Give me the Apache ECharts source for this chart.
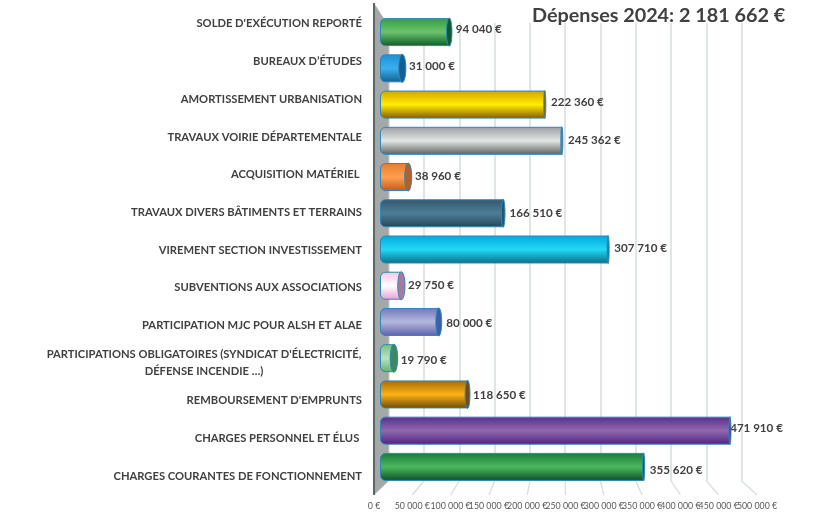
<!DOCTYPE html>
<html><head><meta charset="utf-8">
<style>html,body{margin:0;padding:0;background:#fff}#c{width:823px;height:521px}</style>
<script src="https://cdn.jsdelivr.net/npm/echarts@6/dist/echarts.min.js"></script>
</head><body><div id="c"></div>
<script>
const categories = ["SOLDE D'EXÉCUTION REPORTÉ","BUREAUX D’ÉTUDES","AMORTISSEMENT URBANISATION","TRAVAUX VOIRIE DÉPARTEMENTALE","ACQUISITION MATÉRIEL\u00a0","TRAVAUX DIVERS BÂTIMENTS ET TERRAINS","VIREMENT SECTION INVESTISSEMENT","SUBVENTIONS AUX ASSOCIATIONS","PARTICIPATION MJC POUR ALSH ET ALAE","PARTICIPATIONS OBLIGATOIRES (SYNDICAT D'ÉLECTRICITÉ,\nDÉFENSE INCENDIE …)","REMBOURSEMENT D'EMPRUNTS","CHARGES PERSONNEL ET ÉLUS\u00a0","CHARGES COURANTES DE FONCTIONNEMENT"];
const values = [94040,31000,222360,245362,38960,166510,307710,29750,80000,19790,118650,471910,355620];
const titleText = "Dépenses 2024: 2 181 662 €";
const tickStep = 50000, tickMax = 500000;
const topColors = ['#2f9e44','#1f8fd8','#d8a000','#9aa0a0','#e87a30','#33586f','#00a8e0','#f4c4e2','#7078b8','#70c080','#a86a08','#5b2d8c','#1a7a3a'];
const midColors = ['#6cc36c','#38b0ee','#ffee00','#e2e6e4','#ffa050','#4f7d97','#22d8f2','#ffffff','#b4b8de','#b8e4bc','#fbb214','#8f68ae','#4cb85c'];
const lowColors = ['#0f5a2a','#14608f','#8a5a00','#5a5f5f','#c05a1c','#22465c','#0a6f8a','#e8a0d0','#5a60a8','#60b070','#6e4a08','#4f2382','#0a4f28'];
const capColors = ['#0c5a30','#155f90','#8a6000','#70767a','#b0602c','#1c5878','#0a7f9a','#a87aa0','#3a60a8','#3f8a5c','#6a5020','#5a2a8c','#0c5a30'];
const labelOffsets = [6,6,6,6,6,6,6,6,7,6,5,0,6];
const labelShift = [-3,-2,-2,-1,-1,0,-1,0,1,2,1,-2,3];

const fmt = v => String(v).replace(/\B(?=(\d{3})+$)/g,' ') + ' €';
const FONT = 'Lato', INK = '#404040';
const chart = echarts.init(document.getElementById('c'), null, {renderer:'canvas'});

const barData = values.map((v,i)=>({
  value:v,
  itemStyle:{color:new echarts.graphic.LinearGradient(0,0,0,1,[
    {offset:0,color:topColors[i]},{offset:.5,color:midColors[i]},{offset:1,color:lowColors[i]}])},
  label:{distance:labelOffsets[i],offset:[0,labelShift[i]]}
}));

const blank = {axisLine:{show:false},axisTick:{show:false},axisLabel:{show:false},splitLine:{show:false}};
chart.setOption({
  animation:false,
  backgroundColor:'#fff',
  title:{text:titleText,left:532,top:6,padding:0,textStyle:{fontFamily:FONT,fontWeight:'bold',fontSize:19.8,color:'#404040'}},
  grid:[
    {left:388.7,top:23,width:353,height:458},
    {left:380,top:14,width:371,height:471},
    {left:374,top:5,width:421.3,height:490}
  ],
  xAxis:[
    {gridIndex:0,type:'value',min:0,max:tickMax,interval:tickStep,...blank,
      splitLine:{show:true,lineStyle:{color:'#d5dedf',width:1.5}}},
    {gridIndex:1,type:'value',min:0,max:tickMax,interval:tickStep,...blank},
    {gridIndex:2,type:'value',min:0,max:tickMax+tickStep,interval:tickStep,axisLine:{show:false},axisTick:{show:false},splitLine:{show:false},
      axisLabel:{show:true,margin:7,fontFamily:FONT,fontSize:8.8,color:'#595959',hideOverlap:false,formatter:v=>v>tickMax?'':fmt(v)}}
  ],
  yAxis:[
    {gridIndex:0,type:'category',data:categories,inverse:true,...blank},
    {gridIndex:1,type:'category',data:categories,inverse:true,...blank},
    {gridIndex:2,type:'category',data:categories,inverse:true,axisLine:{show:false},axisTick:{show:false},splitLine:{show:false},
      axisLabel:{show:true,interval:0,margin:12,fontFamily:FONT,fontWeight:'bold',fontSize:11.2,color:INK,lineHeight:17,
        formatter:v=>v.includes('\n')?v.split('\n').map(s=>'{c|'+s+'}').join('\n'):v,
        rich:{c:{width:316,align:'center',fontFamily:FONT,fontWeight:'bold',fontSize:11.2,color:INK,lineHeight:17}}}}
  ],
  series:[
    {type:'bar',xAxisIndex:1,yAxisIndex:1,data:barData,barWidth:28,z:3,
      itemStyle:{borderColor:'#2f86b8',borderWidth:1,borderRadius:[5,0,0,5]},
      label:{show:true,position:'right',fontFamily:FONT,fontWeight:'bold',fontSize:11.6,color:INK,formatter:p=>fmt(p.value)}},
    {type:'custom',xAxisIndex:1,yAxisIndex:1,z:4,silent:true,data:values.map((v,i)=>[v,i]),
      renderItem:(params,api)=>{
        const p=api.coord([api.value(0),api.value(1)]);
        const rx=Math.max(1,4*(1-api.value(0)/300000));
        return {type:'ellipse',shape:{cx:p[0]-rx*0.2,cy:p[1],rx:rx,ry:14},
          style:{fill:capColors[params.dataIndex],stroke:'#2f86b8',lineWidth:1}};
      }}
  ]
});

// perspective wall and floor, derived from the axes
const bx=v=>chart.convertToPixel({xAxisIndex:0},v), fx=v=>chart.convertToPixel({xAxisIndex:2},v);
const backBottom=481, frontBottom=495, wallTop=3, backTop=26;
const floor=[];
for(let v=tickStep;v<=tickMax;v+=tickStep){
  floor.push({type:'line',z:0,shape:{x1:bx(v),y1:backBottom,x2:fx(v),y2:frontBottom},style:{stroke:'#d5dedf',lineWidth:1.3}});
}
chart.setOption({graphic:[
  {type:'polygon',z:0,shape:{points:[[fx(0),wallTop],[bx(0),backTop],[bx(0),backBottom],[fx(0),frontBottom]]},style:{fill:'#a3a8a8'}},
  {type:'line',z:0,shape:{x1:fx(0),y1:wallTop,x2:fx(0),y2:frontBottom},style:{stroke:'#5e6666',lineWidth:2}},
  ...floor
]});
</script></body></html>
